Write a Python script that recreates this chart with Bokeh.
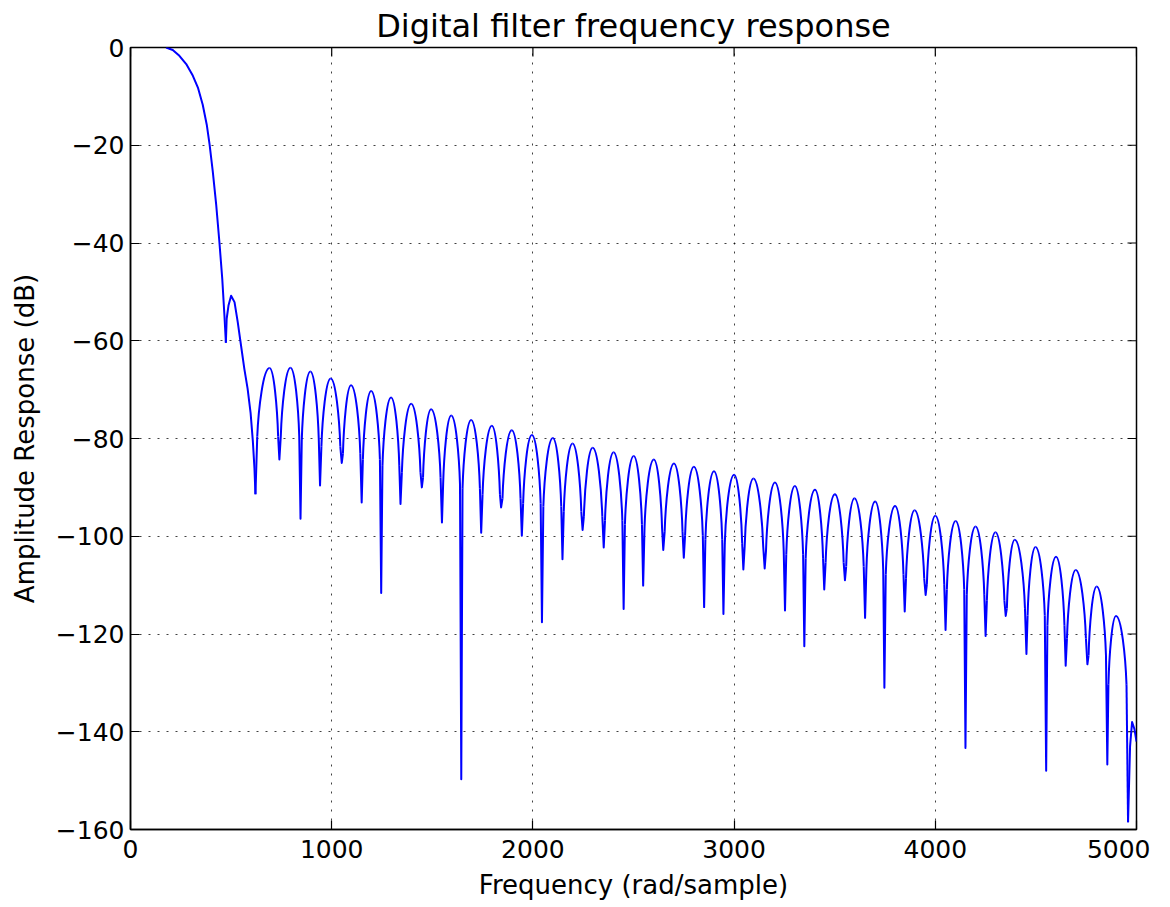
from bokeh.plotting import figure
from bokeh.models import Range1d, FixedTicker
from bokeh.embed import file_html
from bokeh.resources import INLINE

# ---------------- data ----------------
TITLE = "Digital filter frequency response"
X_LABEL = "Frequency (rad/sample)"
Y_LABEL = "Amplitude Response (dB)"

x_ticks = [0, 1000, 2000, 3000, 4000, 5000]
x_tick_labels = ["0", "1000", "2000", "3000", "4000", "5000"]
y_ticks = [0, -20, -40, -60, -80, -100, -120, -140, -160]
y_tick_labels = ["0", "\u221220", "\u221240", "\u221260", "\u221280",
                 "\u2212100", "\u2212120", "\u2212140", "\u2212160"]

# main lobe (pass band roll-off)
main_f = [177, 210, 243, 277, 310, 335, 359, 379, 393, 409, 426, 442, 456, 467, 474]
main_db = [0.0, -0.5, -1.7, -3.4, -5.8, -8.2, -11.7, -15.8, -19.8, -25.4,
           -32.2, -39.9, -47.3, -54.9, -60.4]

# first side lobe and transition
side_f = [474, 478, 487, 500, 517, 533, 546, 566, 582, 597, 608, 616, 621]
side_db = [-60.4, -55.5, -52.8, -50.8, -52.1, -56.2, -60.0, -65.8, -69.8,
           -74.8, -80.5, -86.0, -91.4]

# stop-band nulls
null_f = [621, 740, 845, 942, 1050, 1149, 1246, 1342, 1448, 1548,
          1644, 1743, 1842, 1945, 2045, 2147, 2247, 2352, 2451, 2548,
          2648, 2750, 2851, 2947, 3046, 3152, 3253, 3349, 3448, 3551,
          3651, 3747, 3848, 3952, 4051, 4150, 4250, 4350, 4453, 4551,
          4648, 4756, 4855, 4958]
null_db = [-91.4, -84.3, -96.4, -89.6, -85.0, -93.1, -111.6, -93.4, -90.0, -97.2,
           -149.7, -99.3, -94.1, -99.9, -117.6, -104.7, -98.7, -102.3, -114.9, -110.1,
           -102.8, -104.4, -114.5, -115.9, -106.8, -106.6, -115.2, -122.5, -110.9, -109.0,
           -116.7, -131.0, -115.4, -112.0, -119.2, -143.3, -120.4, -116.3, -124.1, -148.0,
           -126.5, -126.2, -146.7, -158.5]

# stop-band lobe peaks (one between each pair of nulls)
peak_f = [691, 795, 894, 995, 1096, 1196, 1295, 1395, 1494, 1594,
          1693, 1796, 1895, 1995, 2099, 2197, 2297, 2401, 2501, 2601,
          2701, 2800, 2900, 3000, 3096, 3203, 3302, 3402, 3501, 3598,
          3701, 3800, 3897, 4000, 4101, 4200, 4299, 4395, 4498, 4600,
          4698, 4802, 4898]
peak_db = [-65.6, -65.5, -66.3, -67.7, -69.1, -70.3, -71.6, -72.9, -74.0, -75.3,
           -76.2, -77.4, -78.3, -79.3, -79.9, -81.0, -81.9, -82.8, -83.6, -84.3,
           -85.1, -85.8, -86.7, -87.4, -88.2, -89.0, -89.7, -90.5, -91.4, -92.2,
           -92.9, -93.8, -94.7, -95.8, -96.9, -98.0, -99.2, -100.7, -102.2, -104.2,
           -106.9, -110.3, -116.3]

# last partial lobe at the band edge
tail_f = [4958, 4968, 4978, 4990, 5000]
tail_db = [-158.5, -143.0, -138.0, -139.5, -142.0]

# ---------------- styling constants ----------------
BLUE = "#0000ff"
LW = 2
FONT = "DejaVu Sans"
FRAME_W, FRAME_H = 1006, 782
X0, X1, Y0, Y1 = 0, 5000, -160, 0
TICK_PX = 9

p = figure(frame_width=FRAME_W, frame_height=FRAME_H,
           x_range=Range1d(X0, X1), y_range=Range1d(Y0, Y1),
           output_backend="svg", toolbar_location=None,
           min_border_left=130, min_border_right=14,
           min_border_top=47, min_border_bottom=77,
           background_fill_color="white", border_fill_color="white")

p.title.text = TITLE
p.title.text_font = FONT
p.title.text_font_size = "32px"
p.title.text_font_style = "normal"
p.title.align = "center"
p.title.text_color = "black"
p.title.standoff = 5

p.outline_line_color = "black"
p.outline_line_width = 1.5

# axes
p.xaxis.ticker = FixedTicker(ticks=x_ticks)
p.yaxis.ticker = FixedTicker(ticks=y_ticks)
p.xaxis.major_label_overrides = {t: s for t, s in zip(x_ticks, x_tick_labels)}
p.yaxis.major_label_overrides = {t: s for t, s in zip(y_ticks, y_tick_labels)}
p.xaxis.axis_label = X_LABEL
p.yaxis.axis_label = Y_LABEL
for ax in (p.xaxis, p.yaxis):
    ax.axis_line_color = "black"
    ax.axis_line_width = 1.5
    ax.major_tick_in = TICK_PX
    ax.major_tick_out = 0
    ax.major_tick_line_color = "black"
    ax.major_tick_line_width = 1.2
    ax.minor_tick_line_color = None
    ax.major_label_text_font = FONT
    ax.major_label_text_font_size = "25px"
    ax.major_label_text_color = "black"
    ax.axis_label_text_font = FONT
    ax.axis_label_text_font_size = "26px"
    ax.axis_label_text_font_style = "normal"
    ax.axis_label_text_color = "black"
p.xaxis.major_label_standoff = 10
p.xaxis.axis_label_standoff = 9
p.yaxis.major_label_standoff = 6
p.yaxis.axis_label_standoff = 13

# grid
p.xgrid.ticker = FixedTicker(ticks=x_ticks)
p.ygrid.ticker = FixedTicker(ticks=y_ticks)
for g in (p.xgrid, p.ygrid):
    g.grid_line_color = "black"
    g.grid_line_alpha = 0.75
    g.grid_line_width = 1
    g.grid_line_dash = "2 7"

# mirrored inward ticks on the top and right edges of the frame
dx_tick = TICK_PX * (X1 - X0) / FRAME_W
dy_tick = TICK_PX * (Y1 - Y0) / FRAME_H
p.segment(x0=x_ticks, y0=[Y1] * len(x_ticks), x1=x_ticks, y1=[Y1 - dy_tick] * len(x_ticks),
          line_color="black", line_width=1.2)
p.segment(x0=[X1] * len(y_ticks), y0=y_ticks, x1=[X1 - dx_tick] * len(y_ticks), y1=y_ticks,
          line_color="black", line_width=1.2)

# ---------------- curve ----------------
p.line(main_f, main_db, line_color=BLUE, line_width=LW, line_join="round")
p.line(side_f, side_db, line_color=BLUE, line_width=LW, line_join="round")
p.line(tail_f, tail_db, line_color=BLUE, line_width=LW, line_join="round")

# each stop-band lobe: a narrow spike at the null, then a rounded arc to the peak
D = 14.0   # depth of spike/arc junction below the lobe peak (dB)
E = 0.128  # horizontal fraction of half-lobe taken by the spike
K1, K2, Q = 0.1, 0.5, 0.583

bx0, by0, bx1, by1, cx0, cy0, cx1, cy1 = ([] for _ in range(8))
right_sh = [None] * len(null_f)
left_sh = [None] * len(null_f)
for i in range(len(peak_f)):
    xa, ya = null_f[i], null_db[i]
    xb, yb = null_f[i + 1], null_db[i + 1]
    xp, yp = peak_f[i], peak_db[i]
    # rising half
    dl = min(D, yp - ya)
    sx, sy = xa + E * (xp - xa), yp - dl
    w = xp - sx
    bx0.append(sx); by0.append(sy); bx1.append(xp); by1.append(yp)
    cx0.append(sx + K1 * w); cy0.append(yp - Q * dl)
    cx1.append(sx + K2 * w); cy1.append(yp)
    right_sh[i] = (sx, sy)
    # falling half
    dr = min(D, yp - yb)
    tx, ty = xb - E * (xb - xp), yp - dr
    w = tx - xp
    bx0.append(xp); by0.append(yp); bx1.append(tx); by1.append(ty)
    cx0.append(xp + K2 * w); cy0.append(yp)
    cx1.append(tx - K1 * w); cy1.append(yp - Q * dr)
    left_sh[i + 1] = (tx, ty)

p.bezier(x0=bx0, y0=by0, x1=bx1, y1=by1, cx0=cx0, cy0=cy0, cx1=cx1, cy1=cy1,
         line_color=BLUE, line_width=LW)

sxs, sys_ = [], []
for j in range(len(null_f)):
    xs, ys = [], []
    if left_sh[j] is not None:
        xs.append(left_sh[j][0]); ys.append(left_sh[j][1])
    xs.append(null_f[j]); ys.append(null_db[j])
    if right_sh[j] is not None:
        xs.append(right_sh[j][0]); ys.append(right_sh[j][1])
    sxs.append(xs); sys_.append(ys)
p.multi_line(sxs, sys_, line_color=BLUE, line_width=LW, line_join="round")

open("out.html", "w").write(file_html(p, INLINE))
